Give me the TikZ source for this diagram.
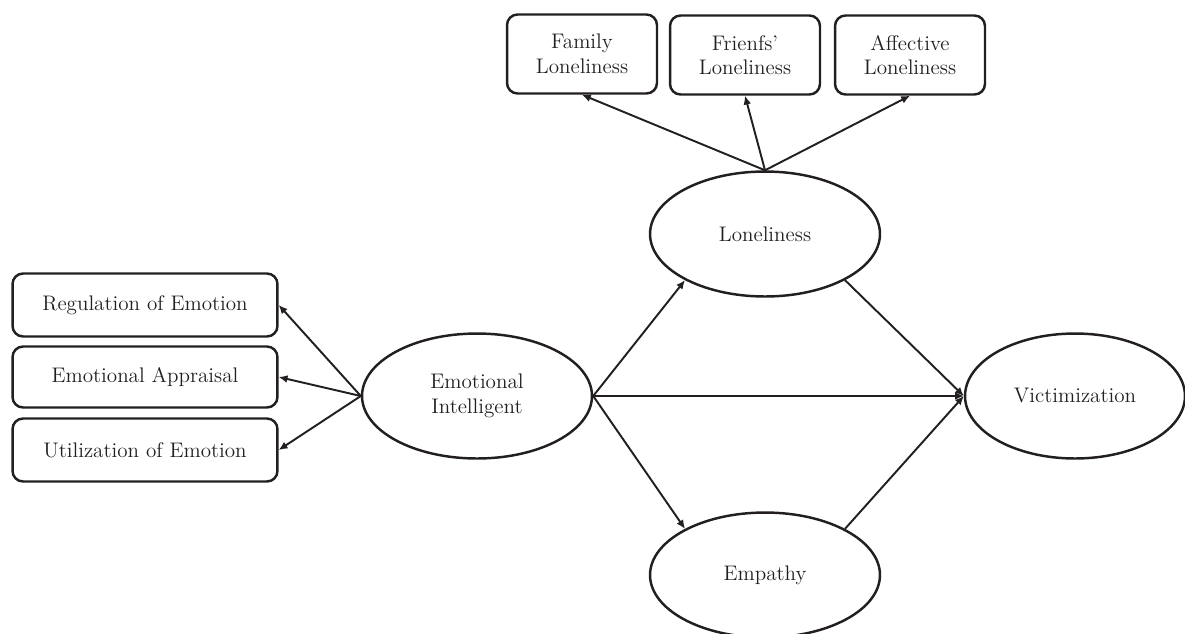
\documentclass[tikz,border=0pt]{standalone}
\usetikzlibrary{arrows.meta,shapes.geometric}
\definecolor{inkdark}{HTML}{231F20}
\begin{document}
\begin{tikzpicture}[x=0.02cm,y=-0.02cm,
	every node/.style={text=inkdark,font=\fontsize{12}{14}\selectfont,align=center},
	measurebox/.style={draw=inkdark,line width=1.4pt,rounded corners=6pt,inner sep=0pt},
	latentvar/.style={draw=inkdark,ellipse,line width=1.4pt,inner sep=0pt,minimum width=4.6cm,minimum height=2.5cm},
	path/.style={draw=inkdark,line width=1.1pt,-{Latex[length=5pt,width=4.5pt]}}]
	
	\useasboundingbox (0,0) rectangle (1185,633);
	
	%latent variables
	\node[latentvar] (emoint) at (477,396) {Emotional\\Intelligent};
	\node[latentvar] (lonely) at (765,234) {Loneliness};
	\node[latentvar] (empathy) at (765,575) {Empathy};
	\node[latentvar,minimum width=4.4cm] (victim) at (1075,396) {Victimization};
	
	%indicators of emotional intelligent
	\node[measurebox,minimum width=5.3cm,minimum height=1.26cm] (regul) at (145,305) {Regulation of Emotion};
	\node[measurebox,minimum width=5.3cm,minimum height=1.22cm] (apprais) at (145,377) {Emotional Appraisal};
	\node[measurebox,minimum width=5.3cm,minimum height=1.26cm] (utiliz) at (145,450) {Utilization of Emotion};
	
	%indicators of loneliness
	\node[measurebox,minimum width=3cm,minimum height=1.58cm] (famlon) at (582,54) {Family\\Loneliness};
	\node[measurebox,minimum width=3cm,minimum height=1.58cm] (frilon) at (745,55) {Frienfs'\\Loneliness};
	\node[measurebox,minimum width=3cm,minimum height=1.58cm] (afflon) at (910,55) {Affective\\Loneliness};
	
	%measurement paths
	\draw[path] (emoint.west) -- (regul.east);
	\draw[path] (emoint.west) -- (apprais.east);
	\draw[path] (emoint.west) -- (utiliz.east);
	\draw[path] (lonely.north) -- (famlon.south);
	\draw[path] (lonely.north) -- (frilon.south);
	\draw[path] (lonely.north) -- (afflon.south);
	
	%structural paths
	\draw[path] (emoint.east) -- (lonely.210);
	\draw[path] (emoint.east) -- (empathy.150);
	\draw[path,line width=1.6pt] (emoint.east) -- (victim.west);
	\draw[path] (lonely.330) -- (victim.west);
	\draw[path] (empathy.30) -- (victim.west);
	
\end{tikzpicture}
\end{document}
